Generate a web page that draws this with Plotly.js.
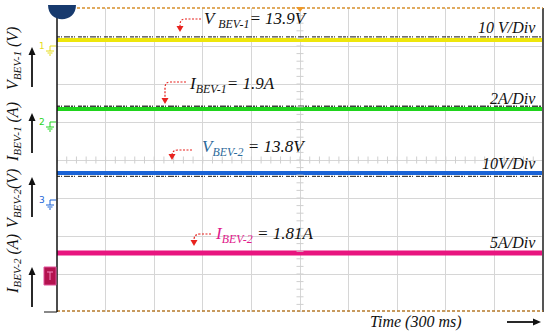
<!DOCTYPE html>
<html>
<head>
<meta charset="utf-8">
<script src="https://cdn.plot.ly/plotly-3.0.1.min.js"></script>
<style>html,body{margin:0;padding:0;background:#fff;}#chart{width:550px;height:331px;}</style>
</head>
<body>
<div id="chart"></div>
<script>
// ---- data (in screen divisions) ----
const timeSpanDiv = [0, 10];                       // 10 horizontal divisions, 300 ms total
const channelNames = ['V_BEV-1', 'I_BEV-1', 'V_BEV-2', 'I_BEV-2'];
const channelLevelDiv = [7.16, 5.34, 3.66, 1.55];  // trace level in vertical divisions
const channelReadings = ['13.9V', '1.9A', '13.8V', '1.81A'];
const channelScales = ['10 V/Div', '2A/Div', '10V/Div', '5A/Div'];
const groundLabels = ['1', '2', '3', '4'];

// ---- style ----
const channelColors = ['#eee60c', '#1fd41c', '#1a63d6', '#e8157f'];
const channelWidths = [4, 4, 4, 5];
const noiseOffsetDiv = [0.08, 0.075, -0.09, null];

const W = 550, H = 331, L = 57, R = 543, T = 8, B = 312;
const PX = p => (p - L) / (R - L);
const PY = p => (B - p) / (B - T);
const serif = 'Liberation Serif, Times New Roman, serif';

const traces = [];
channelLevelDiv.forEach((lv, i) => {
  traces.push({x: timeSpanDiv, y: timeSpanDiv.map(() => lv), mode: 'lines',
    line: {color: channelColors[i], width: channelWidths[i]}, hoverinfo: 'skip', showlegend: false});
  if (noiseOffsetDiv[i] !== null) {
    traces.push({x: timeSpanDiv, y: timeSpanDiv.map(() => lv + noiseOffsetDiv[i]), mode: 'lines',
      line: {color: '#111', width: 1.4, dash: '3px,1px,1px,2px,6px,1px,2px,1px,1px,3px,4px,1px'}, opacity: 0.8,
      hoverinfo: 'skip', showlegend: false});
  }
});
// centre-cross minor ticks of the graticule
const tx = [], ty = [];
for (let k = 0; k <= 50; k++) { tx.push(k / 5); }
for (let k = 0; k <= 40; k++) { ty.push(k / 5); }
traces.push({x: tx, y: tx.map(() => 4), mode: 'markers', marker: {symbol: 'line-ns', size: 5, line: {color: '#cfcfcf', width: 1}}, hoverinfo: 'skip', showlegend: false});
traces.push({x: ty.map(() => 5), y: ty, mode: 'markers', marker: {symbol: 'line-ew', size: 5, line: {color: '#cfcfcf', width: 1}}, hoverinfo: 'skip', showlegend: false});

const shapes = [];
const annotations = [];
const pp = (x, y) => PX(x) + ',' + PY(y);
const P = (d, style) => shapes.push(Object.assign({type: 'path', xref: 'paper', yref: 'paper', path: d}, style));

// borders
shapes.push({type: 'line', xref: 'paper', yref: 'paper', x0: PX(R), x1: PX(R), y0: PY(T), y1: PY(B), line: {color: '#555', width: 2}});
shapes.push({type: 'line', xref: 'paper', yref: 'paper', x0: PX(44), x1: PX(L), y0: PY(B), y1: PY(B), line: {color: '#888', width: 2}});
shapes.push({type: 'line', xref: 'paper', yref: 'paper', x0: 0, x1: 1, y0: PY(T), y1: PY(T), line: {color: '#d8902c', width: 1.5, dash: '3px,2px'}});
shapes.push({type: 'line', xref: 'paper', yref: 'paper', x0: 0, x1: 1, y0: PY(B - 1), y1: PY(B - 1), line: {color: '#b57a2a', width: 1.5, dash: '3px,2px'}});
shapes.push({type: 'line', xref: 'paper', yref: 'paper', x0: 0, x1: 0, y0: PY(T), y1: PY(B), line: {color: '#111', width: 1.5}});
// trigger marker top
P('M' + pp(296, 7) + ' L' + pp(304, 7) + ' L' + pp(300, 12) + ' Z', {fillcolor: '#f09a2a', line: {width: 0}});
// blue half disc top-left
P('M' + pp(48, 5) + ' C' + pp(48, 24) + ' ' + pp(76, 24) + ' ' + pp(76, 5) + ' Z', {fillcolor: '#173a6e', line: {width: 0}});

// ground markers
const gndY = [46, 122, 200, 276];
gndY.forEach((gy, i) => {
  if (i === 3) {
    shapes.push({type: 'rect', xref: 'paper', yref: 'paper', x0: PX(44), x1: PX(56), y0: PY(267), y1: PY(285), fillcolor: '#b3134f', line: {color: '#e0509a', width: 1}});
    P('M' + pp(47, 272) + ' L' + pp(53, 272) + ' M' + pp(50, 272) + ' L' + pp(50, 280), {line: {color: '#f48ac0', width: 1}});
    return;
  }
  const c = i === 0 ? '#e6dc1a' : channelColors[i];
  P('M' + pp(56, gy) + ' L' + pp(50, gy) + ' L' + pp(50, gy + 5) + ' M' + pp(46, gy + 5) + ' L' + pp(54, gy + 5) + ' M' + pp(47.5, gy + 7) + ' L' + pp(52.5, gy + 7) + ' M' + pp(49, gy + 9) + ' L' + pp(51, gy + 9),
    {line: {color: c, width: 1}});
  annotations.push({xref: 'paper', yref: 'paper', x: PX(47), y: PY(gy), text: groundLabels[i], showarrow: false, xanchor: 'right', yanchor: 'middle', font: {family: 'DejaVu Sans', size: 9, color: c}});
});

// right scale labels
const scaleY = [27, 98, 163, 242];
channelScales.forEach((s, i) => annotations.push({xref: 'paper', yref: 'paper', x: PX(538), y: PY(scaleY[i]), text: '<i>' + s + '</i>', showarrow: false, xanchor: 'right', yanchor: 'middle', font: {family: serif, size: 16, color: '#111'}}));

// reading annotations with red dashed curved arrows
const sym = channelNames.map(n => n.split('_'));
const readX = [202, 187, 200, 213];
const readY = [20, 85, 148, 235];
const symColor = ['#111', '#111', '#2d6a9a', '#e0198c'];
channelReadings.forEach((r, i) => {
  const sp = i === 0 ? ' ' : '';
  const eq = i >= 2 ? ' = ' : '= ';
  annotations.push({xref: 'paper', yref: 'paper', x: PX(readX[i]), y: PY(readY[i]), showarrow: false, xanchor: 'left', yanchor: 'middle',
    text: '<i><span style="color:' + symColor[i] + '">' + sym[i][0] + sp + '<sub>' + sym[i][1] + '</sub></span>' + eq + r + '</i>',
    font: {family: serif, size: 17, color: '#111'}});
});
const arr = [
  {s: [201, 19], c: [180, 19], t: [180, 32]},
  {s: [186, 82], c: [165, 82], t: [165, 104]},
  {s: [192, 150], c: [173, 150], t: [172, 160]},
  {s: [211, 234], c: [195, 234], t: [194, 246]}
];
arr.forEach(a => {
  const [sx, sy] = a.s, [cx, cy] = a.c, [tx2, ty2] = a.t;
  P('M' + pp(sx, sy) + ' L' + pp(cx + 5, cy) + ' Q' + pp(tx2, cy) + ' ' + pp(tx2, cy + 6) + ' L' + pp(tx2, ty2 - 5), {line: {color: '#e8221e', width: 1.2, dash: '2px,1.5px'}});
  P('M' + pp(tx2 - 3.5, ty2 - 6) + ' L' + pp(tx2 + 3.5, ty2 - 6) + ' L' + pp(tx2, ty2) + ' Z', {fillcolor: '#e8221e', line: {width: 0}});
});

// left rotated labels and up arrows (arrows drawn as shapes)
const leftLabels = ['V<sub>BEV-1</sub> (V)', 'I<sub>BEV-1</sub> (A)', 'V<sub>BEV-2</sub>(V)', 'I<sub>BEV-2</sub> (A)'];
const leftLabelY = [59, 132, 199, 264];
const arrowTop = [47, 113, 177, 267];
leftLabels.forEach((t, i) => {
  annotations.push({xref: 'paper', yref: 'paper', x: PX(13), y: PY(leftLabelY[i]), text: '<i>' + t + '</i>', textangle: -90, showarrow: false, xanchor: 'center', yanchor: 'middle', font: {family: serif, size: 16, color: '#111'}});
  const at = arrowTop[i];
  P('M' + pp(32, at + 40) + ' L' + pp(32, at + 6), {line: {color: '#111', width: 1.8}});
  P('M' + pp(28.5, at + 8) + ' L' + pp(35.5, at + 8) + ' L' + pp(32, at) + ' Z', {fillcolor: '#111', line: {width: 0}});
});

// time label and arrow
annotations.push({xref: 'paper', yref: 'paper', x: PX(416), y: PY(322), text: '<i>Time (300 ms)</i>', showarrow: false, xanchor: 'center', yanchor: 'middle', font: {family: serif, size: 16, color: '#111'}});
P('M' + pp(507, 322) + ' L' + pp(534, 322), {line: {color: '#111', width: 1.8}});
P('M' + pp(533, 318.5) + ' L' + pp(533, 325.5) + ' L' + pp(541, 322) + ' Z', {fillcolor: '#111', line: {width: 0}});

const layout = {
  width: W, height: H,
  margin: {l: L, r: W - R, t: T, b: H - B, pad: 0},
  paper_bgcolor: '#fff', plot_bgcolor: '#fff',
  xaxis: {range: [0, 10], dtick: 1, tick0: 0, showgrid: true, gridcolor: '#d6d6d6', gridwidth: 1, showticklabels: false, ticks: '', zeroline: false, showline: false, fixedrange: true},
  yaxis: {range: [0, 8], dtick: 1, tick0: 0, showgrid: true, gridcolor: '#d6d6d6', gridwidth: 1, showticklabels: false, ticks: '', zeroline: false, showline: false, fixedrange: true},
  shapes: shapes,
  annotations: annotations,
  showlegend: false
};
Plotly.newPlot('chart', traces, layout, {staticPlot: true, displayModeBar: false});
</script>
</body>
</html>
